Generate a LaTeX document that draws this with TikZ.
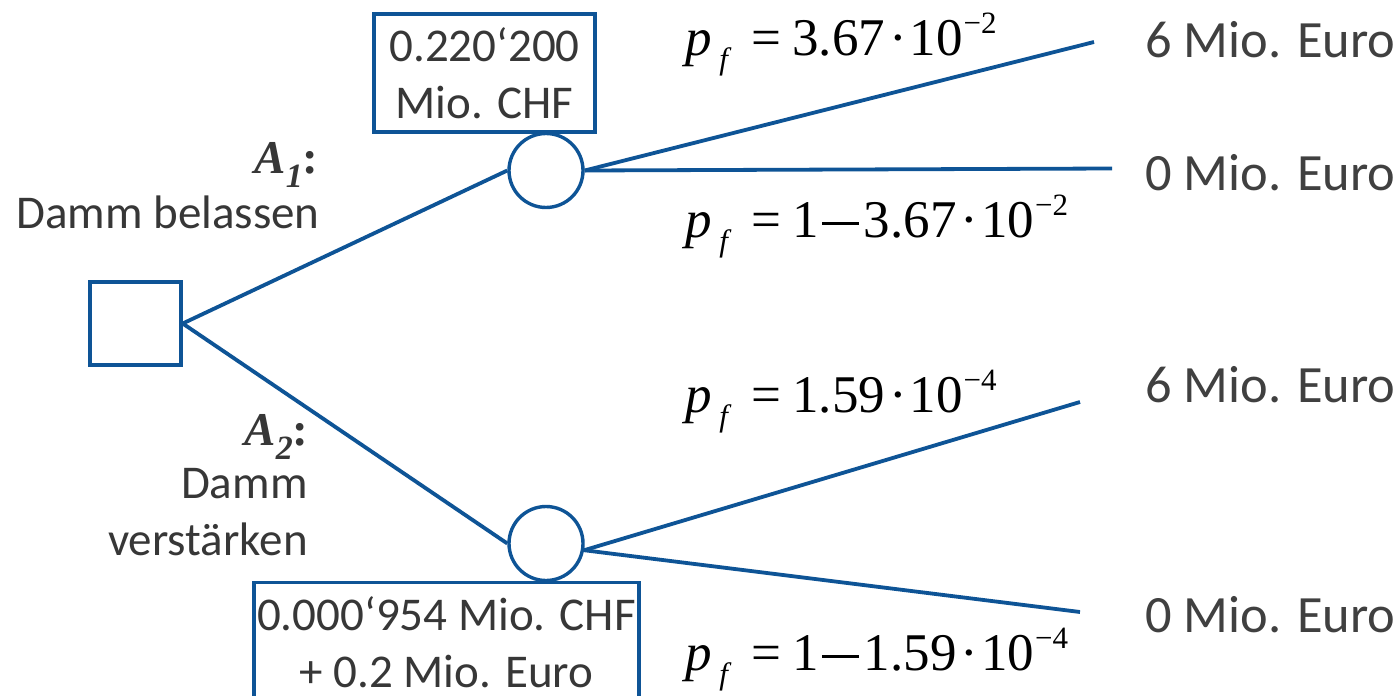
\documentclass[tikz,border=0pt]{standalone}
\usepackage{fontspec}
\setmainfont{Carlito}
\newfontfamily\tms{Liberation Serif}
\definecolor{tblue}{RGB}{14,84,150}
\definecolor{tgray}{RGB}{55,55,55}
\definecolor{ogray}{RGB}{64,64,64}
\newcommand\pfl[1]{{\tms\fontsize{26.5}{30}\selectfont\itshape p\kern0.14em\raisebox{-7pt}{\fontsize{15.5}{18}\selectfont f}\upshape\kern0.45em=\kern0.2em#1}}
\newcommand\tenpow[1]{\kern0.08em·\kern0.05em10\kern0.02em\raisebox{11pt}{\fontsize{15.5}{18}\selectfont −#1}}
\newcommand\bigminus{\kern0.07em\rule[0.235em]{0.68em}{0.05em}\kern0.1em}
\newcommand\altlab[1]{{\tms\bfseries\itshape A\raisebox{-0.3em}{\fontsize{17}{20}\selectfont #1}\upshape:}}
\tikzset{
  conn/.style={draw=tblue,line width=1.9pt},
  chance/.style={circle,draw=tblue,line width=1.7pt,minimum size=37pt,inner sep=0pt},
  decision/.style={rectangle,draw=tblue,line width=1.7pt,minimum width=45.5pt,minimum height=41.5pt,inner sep=0pt},
  valbox/.style={rectangle,draw=tblue,line width=1.7pt,align=center,inner sep=0pt,text=tgray,font=\fontsize{23.5}{28.5}\selectfont},
  lbl/.style={inner sep=0pt,text=tgray,font=\fontsize{23.5}{28.5}\selectfont},
  outlbl/.style={inner sep=0pt,text=ogray,anchor=base west,font=\fontsize{26.2}{30}\selectfont},
  prob/.style={inner sep=0pt,anchor=base west,text=black}
}
\begin{document}
\begin{tikzpicture}[x=0.5pt,y=-0.5pt]
\clip (0,0) rectangle (1398,696);
\fill[white] (0,0) rectangle (1398,696);
% nodes
\node[decision] (sq) at (135.5,323.5) {};
\node[chance] (c1) at (546,170.5) {};
\node[chance] (c2) at (546,543.5) {};
\node[valbox,minimum width=110.5pt,minimum height=59pt] (b1) at (484.5,73) {0.220‘200\\Mio. CHF};
\node[valbox,minimum width=192.5pt,inner ysep=7pt,anchor=north] (b2) at (446.5,581) {0.000‘954 Mio. CHF\\+ 0.2 Mio. Euro};
% end points
\coordinate (e1) at (1094,42);
\coordinate (e2) at (1112,168.5);
\coordinate (e3) at (1080,402);
\coordinate (e4) at (1080,612);
% connectors
\draw[conn] (sq.east) -- (c1.west);
\draw[conn] (sq.east) -- (c2.west);
\draw[conn] (c1.east) -- (e1);
\draw[conn] (c1.east) -- (e2);
\draw[conn] (c2.-10) -- (e3);
\draw[conn] (c2.-10) -- (e4);
% outcomes
\node[outlbl] (o1) at (1145,57) {6 Mio. Euro};
\node[outlbl] (o2) at (1145,190) {0 Mio. Euro};
\node[outlbl] (o3) at (1145,402) {6 Mio. Euro};
\node[outlbl] (o4) at (1145,632) {0 Mio. Euro};
% probabilities
\node[prob] (p1) at (685,55) {\pfl{3.67\tenpow{2}}};
\node[prob] (p2) at (685,237) {\pfl{1\bigminus 3.67\tenpow{2}}};
\node[prob] (p3) at (685,412) {\pfl{1.59\tenpow{4}}};
\node[prob] (p4) at (685,670) {\pfl{1\bigminus 1.59\tenpow{4}}};
% alternative labels
\node[lbl,anchor=base east] (a1) at (319,173) {\altlab{1}};
\node[lbl,anchor=base east] (a1t) at (320,228) {Damm belassen};
\node[lbl,anchor=base east] (a2) at (309,445) {\altlab{2}};
\node[lbl,anchor=base east] (a2t) at (308,498) {Damm};
\node[lbl,anchor=base east] (a2u) at (308,555) {verstärken};
\end{tikzpicture}
\end{document}
